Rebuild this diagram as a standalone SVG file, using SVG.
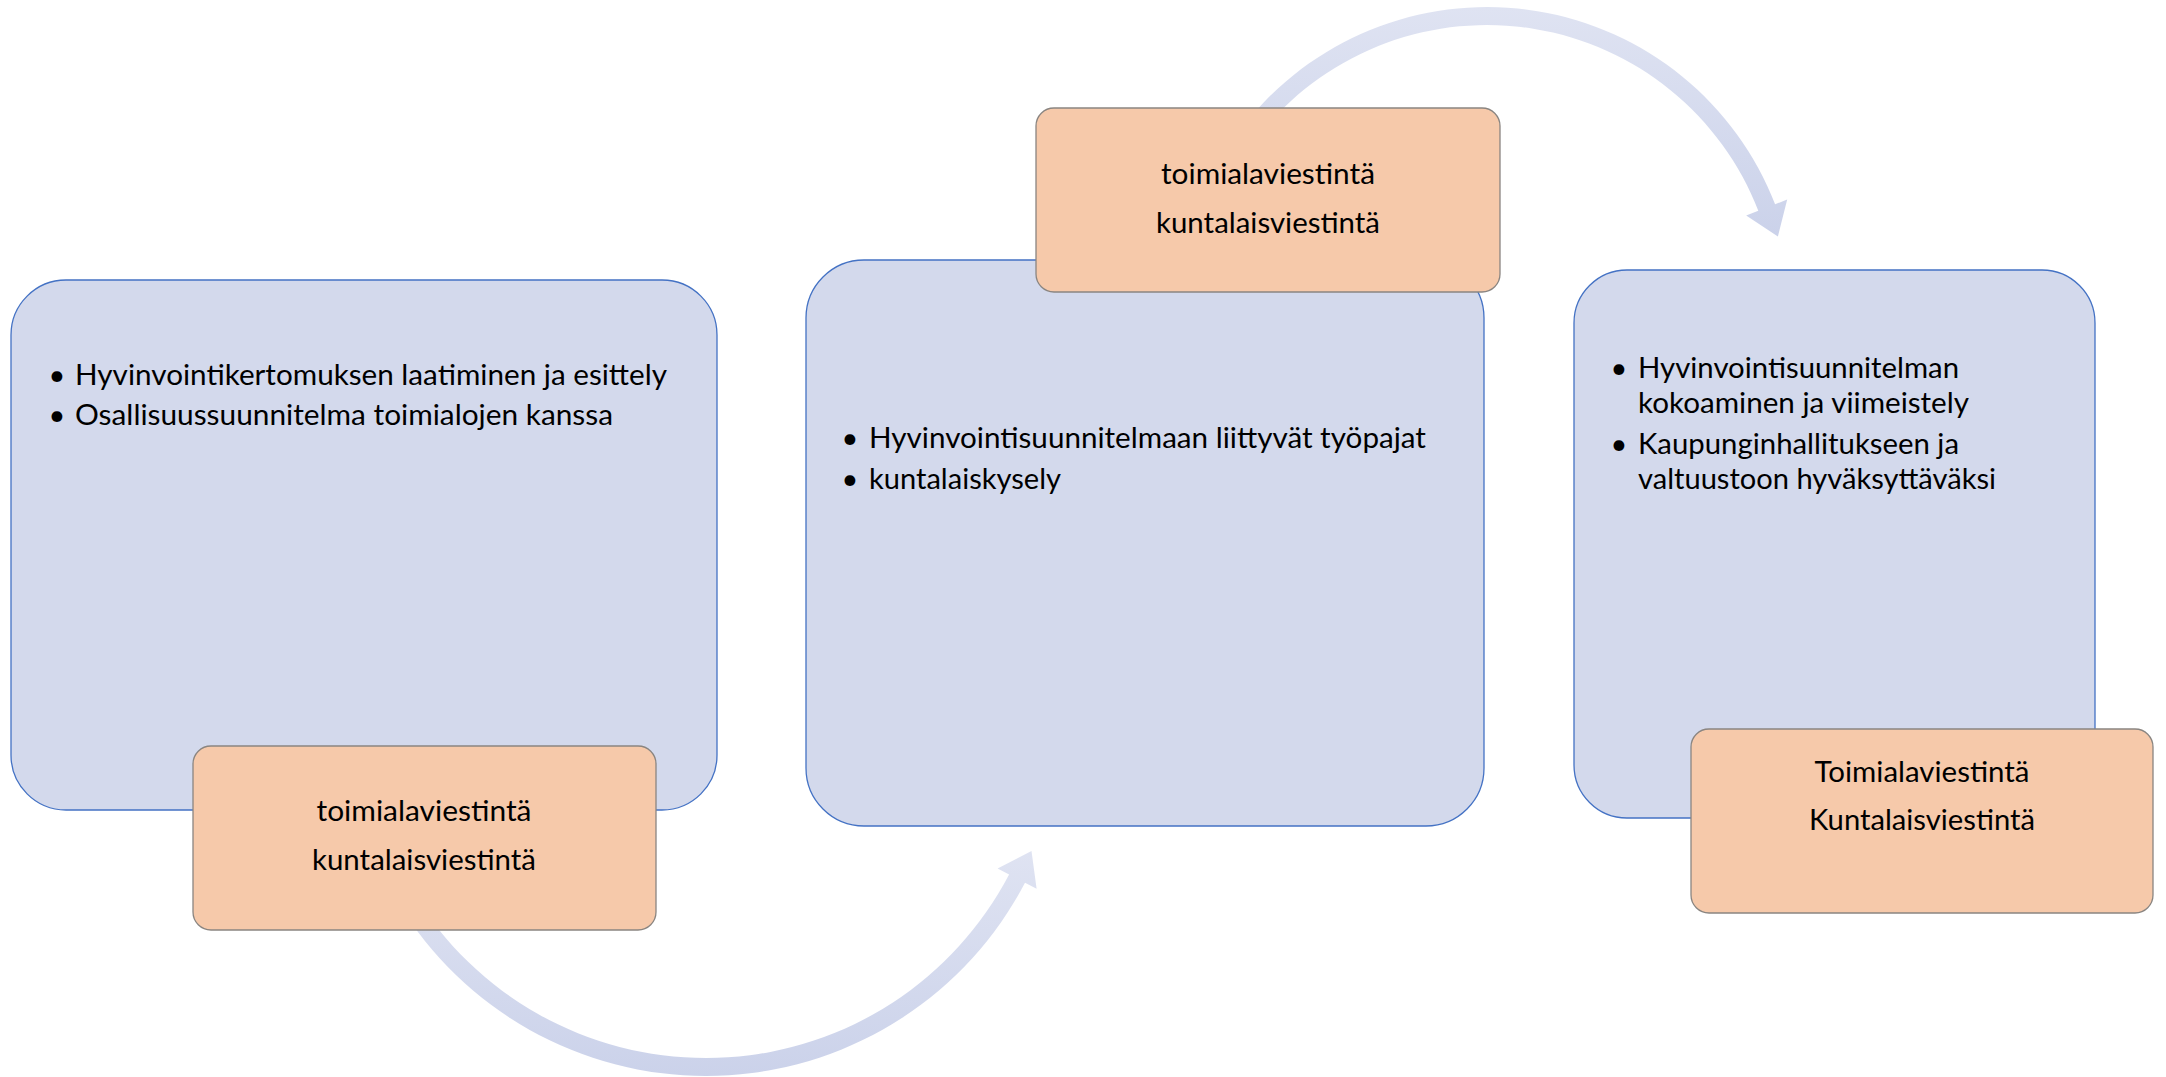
<svg xmlns="http://www.w3.org/2000/svg" width="2166" height="1077" viewBox="0 0 2166 1077">
<defs>
<linearGradient id="arrowGrad" x1="0" y1="0" x2="0" y2="1">
<stop offset="0" stop-color="#DFE3F2"/>
<stop offset="1" stop-color="#CBD2EA"/>
</linearGradient>
<style>
.blue{fill:#D3D9EC;stroke:#4472C4;stroke-width:1.3}
.orange{fill:#F6C9AA;stroke:#8A8581;stroke-width:1.3}
.t{font-family:Lato,"Open Sans","Liberation Sans",sans-serif;font-size:29px;fill:#000}
.c{text-anchor:middle}
.arrow{fill:url(#arrowGrad);stroke:none}
</style>
</defs>
<rect width="2166" height="1077" fill="#FFFFFF"/>
<g id="box1">
<rect class="blue" x="11" y="280" width="706" height="530" rx="55" ry="55"/>
<text class="t c" x="57" y="385">•</text>
<text class="t" x="75" y="385" textLength="592" lengthAdjust="spacingAndGlyphs">Hyvinvointikertomuksen laatiminen ja esittely</text>
<text class="t c" x="57" y="425">•</text>
<text class="t" x="75" y="425" textLength="538" lengthAdjust="spacingAndGlyphs">Osallisuussuunnitelma toimialojen kanssa</text>
</g>
<g id="box2">
<rect class="blue" x="806" y="260" width="678" height="566" rx="58" ry="58"/>
<text class="t c" x="850" y="448">•</text>
<text class="t" x="869" y="448" textLength="557" lengthAdjust="spacingAndGlyphs">Hyvinvointisuunnitelmaan liittyvät työpajat</text>
<text class="t c" x="850" y="489">•</text>
<text class="t" x="869" y="489" textLength="192" lengthAdjust="spacingAndGlyphs">kuntalaiskysely</text>
</g>
<g id="box3">
<rect class="blue" x="1574" y="270" width="521" height="548" rx="53" ry="53"/>
<text class="t c" x="1619" y="378">•</text>
<text class="t" x="1638" y="378" textLength="321" lengthAdjust="spacingAndGlyphs">Hyvinvointisuunnitelman</text>
<text class="t" x="1638" y="413" textLength="331" lengthAdjust="spacingAndGlyphs">kokoaminen ja viimeistely</text>
<text class="t c" x="1619" y="454">•</text>
<text class="t" x="1638" y="454" textLength="321" lengthAdjust="spacingAndGlyphs">Kaupunginhallitukseen ja</text>
<text class="t" x="1638" y="489" textLength="358" lengthAdjust="spacingAndGlyphs">valtuustoon hyväksyttäväksi</text>
</g>
<g id="connectors">
<path id="arrow-bottom" class="arrow" d="M 411.1 922.5 A 360 360 0 0 0 1025.0 882.8 L 1036.6 888.8 L 1031.5 851.1 L 997.6 868.4 L 1009.1 874.4 A 342 342 0 0 1 425.8 912.2 Z"/>
<path id="arrow-top" class="arrow" d="M 1250.3 117.4 A 309 309 0 0 1 1775.1 204.3 L 1787.2 199.5 L 1777.9 236.4 L 1746.2 215.5 L 1758.3 210.8 A 291 291 0 0 0 1264.1 128.9 Z"/>
</g>
<g id="comm1">
<rect class="orange" x="193" y="746" width="463" height="184" rx="18" ry="18"/>
<text class="t c" x="424" y="821" textLength="215" lengthAdjust="spacingAndGlyphs">toimialaviestintä</text>
<text class="t c" x="424" y="870" textLength="224" lengthAdjust="spacingAndGlyphs">kuntalaisviestintä</text>
</g>
<g id="comm2">
<rect class="orange" x="1036" y="108" width="464" height="184" rx="18" ry="18"/>
<text class="t c" x="1268" y="184" textLength="214" lengthAdjust="spacingAndGlyphs">toimialaviestintä</text>
<text class="t c" x="1268" y="233" textLength="224" lengthAdjust="spacingAndGlyphs">kuntalaisviestintä</text>
</g>
<g id="comm3">
<rect class="orange" x="1691" y="729" width="462" height="184" rx="18" ry="18"/>
<text class="t c" x="1922" y="782" textLength="215" lengthAdjust="spacingAndGlyphs">Toimialaviestintä</text>
<text class="t c" x="1922" y="830" textLength="226" lengthAdjust="spacingAndGlyphs">Kuntalaisviestintä</text>
</g>
</svg>
